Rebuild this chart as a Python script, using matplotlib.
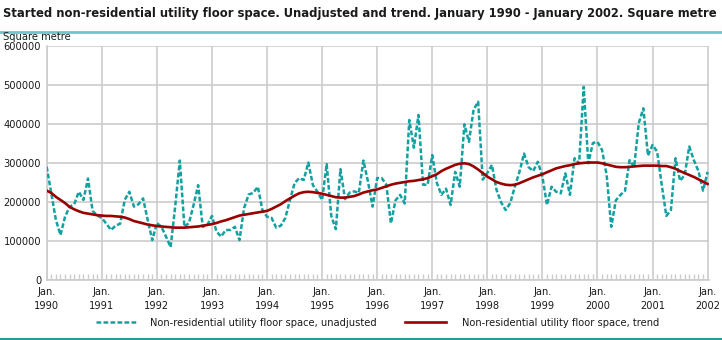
import os
import matplotlib
matplotlib.use("Agg")
import matplotlib.pyplot as plt
import matplotlib.font_manager as fm
from matplotlib.font_manager import FontProperties
from matplotlib.lines import Line2D
import numpy as np

years = [str(y) for y in range(1990, 2003)]
tick_labels = ["Jan.\n" + y for y in years]
y_ticks = [0, 100000, 200000, 300000, 400000, 500000, 600000]

unadjusted_k = [
    291, 223, 155, 116, 163, 189, 195, 227, 206, 261, 178, 166,   # 1990
    160, 145, 129, 140, 145, 206, 227, 189, 195, 210, 155, 103,   # 1991
    147, 137, 112, 85, 190, 307, 137, 147, 193, 244, 137, 142,    # 1992
    165, 125, 112, 129, 129, 137, 103, 185, 220, 224, 240, 180,   # 1993
    163, 160, 135, 140, 160, 206, 249, 262, 257, 302, 244, 227,   # 1994
    206, 298, 165, 131, 285, 208, 225, 228, 224, 307, 253, 189,   # 1995
    262, 262, 245, 146, 205, 219, 197, 411, 340, 424, 245, 245,   # 1996
    321, 250, 219, 235, 193, 278, 240, 400, 355, 437, 458, 258,   # 1997
    275, 296, 232, 200, 180, 198, 240, 278, 325, 290, 280, 304,   # 1998
    266, 193, 240, 227, 223, 274, 219, 313, 300, 496, 300, 352,   # 1999
    355, 334, 270, 137, 205, 219, 229, 308, 291, 403, 441, 320,   # 2000
    347, 330, 245, 165, 180, 313, 255, 270, 343, 308, 280, 230,   # 2001
    278,                                                          # 2002
]

trend_k = [
    230, 224, 214, 206, 198, 188, 182, 177, 173, 171, 169, 167,
    166, 165, 165, 164, 163, 161, 157, 152, 149, 146, 143, 141,
    139, 138, 137, 136, 135, 135, 135, 136, 137, 138, 140, 142,
    144, 147, 151, 154, 158, 162, 166, 168, 170, 172, 174, 176,
    178, 183, 189, 195, 203, 210, 217, 223, 226, 227, 226, 224,
    222, 219, 216, 213, 212, 212, 214, 216, 220, 225, 228, 231,
    233, 237, 241, 245, 248, 250, 252, 254, 255, 257, 259, 262,
    267, 272, 280, 286, 291, 296, 299, 300, 298, 292, 284, 275,
    266, 259, 252, 248, 245, 244, 245, 249, 254, 259, 264, 268,
    272, 277, 282, 287, 290, 293, 295, 298, 300, 301, 302, 302,
    302, 300, 297, 294, 291, 290, 290, 291, 292, 293, 294, 294,
    294, 294, 293, 293, 290, 286, 280, 275, 270, 265, 259, 253,
    247,
]

label_unadj = "Non-residential utility floor space, unadjusted"
label_trend = "Non-residential utility floor space, trend"
title = "Started non-residential utility floor space. Unadjusted and trend. January 1990 - January 2002. Square metre"
y_unit = "Square metre"

unadjusted = np.array(unadjusted_k) * 1000
trend = np.array(trend_k) * 1000
months = np.arange(len(unadjusted))

TEAL = "#13a0a0"
RED = "#990000"
GRID = "#cccccc"
TXT = "#1a1a1a"


# ---- font selection: prefer a narrow sans face ----
def _w(f):
    w = f.weight
    if isinstance(w, (int, float)):
        return int(w)
    return {'normal': 400, 'regular': 400, 'book': 400, 'medium': 500,
            'semibold': 600, 'bold': 700, 'heavy': 800, 'black': 900}.get(str(w).lower(), 400)


def find_font(bold):
    entries = fm.fontManager.ttflist

    def ok(f):
        w = _w(f)
        wt = (w >= 600) if bold else (350 <= w <= 500)
        b = os.path.basename(f.fname)
        return wt and f.style == 'normal' and 'Mono' not in b and 'Oblique' not in b and 'Italic' not in b
    prefs = [
        lambda f: f.name == 'Liberation Sans Narrow',
        lambda f: 'DejaVuSansCondensed' in os.path.basename(f.fname),
        lambda f: ('Condensed' in os.path.basename(f.fname) or 'Narrow' in os.path.basename(f.fname))
        and 'Serif' not in os.path.basename(f.fname) and 'Extra' not in os.path.basename(f.fname),
    ]
    for p in prefs:
        c = [f for f in entries if p(f) and ok(f)]
        if c:
            return c[0].fname
    return None


reg_file = find_font(False)
bold_file = find_font(True)


def fprop(size, bold=False):
    path = bold_file if bold else reg_file
    if path:
        return FontProperties(fname=path, size=size)
    return FontProperties(family='DejaVu Sans', size=size, weight='bold' if bold else 'normal')


fig = plt.figure(figsize=(7.22, 3.40), dpi=100)
renderer = fig.canvas.get_renderer()


def fit_size(text, target_px, bold=False):
    t = fig.text(0, 0, text, fontproperties=fprop(10, bold))
    w = t.get_window_extent(renderer).width
    t.remove()
    return 10 * target_px / w


fs_tick = fit_size("600000", 38)
fs_title = fit_size(title, 711, bold=True)
fs_title = min(fs_title, 11.5)

ax = fig.add_axes([46.7 / 722, 59.7 / 340, (709 - 46.7) / 722, (280.3 - 46.3) / 340])

ax.plot(months, unadjusted, color=TEAL, lw=1.8, linestyle=(0, (1.9, 0.9)), zorder=3)
ax.plot(months, trend, color=RED, lw=1.9, zorder=4)

ax.set_xlim(0, 144.3)
ax.set_ylim(0, 600000)
ax.set_xticks(np.arange(0, 145, 12))
ax.set_xticklabels(tick_labels, linespacing=1.45)
ax.set_xticks(np.arange(0, 145, 1), minor=True)
ax.set_yticks(y_ticks)
ax.set_yticklabels([str(v) for v in y_ticks])
for lab in ax.get_xticklabels() + ax.get_yticklabels():
    lab.set_fontproperties(fprop(fs_tick))
    lab.set_color(TXT)

ax.grid(True, which='major', color=GRID, lw=1.2)
ax.set_axisbelow(True)
for s in ['top', 'right']:
    ax.spines[s].set_visible(False)
for s in ['left', 'bottom']:
    ax.spines[s].set_color(GRID)
    ax.spines[s].set_linewidth(1.2)
ax.tick_params(axis='x', which='major', length=0, pad=5)
ax.tick_params(axis='x', which='minor', length=4, direction='in', color=GRID, width=1)
ax.tick_params(axis='y', which='major', length=0, pad=4)

fig.text(3 / 722, 1 - 14 / 340, title, fontproperties=fprop(fs_title, True), color=TXT,
         va='center', ha='left')
fig.add_artist(Line2D([0, 1], [1 - 32 / 340, 1 - 32 / 340], color="#6cc8c8", lw=2,
                      transform=fig.transFigure))
fig.add_artist(Line2D([0, 1], [1.5 / 340, 1.5 / 340], color="#2a9a9a", lw=1.5,
                      transform=fig.transFigure))
fig.text(3 / 722, 1 - 37 / 340, y_unit, fontproperties=fprop(fs_tick), color=TXT,
         va='center', ha='left')

# legends: two entries placed like the reference
px_per_unit = fs_tick * 100 / 72
h1 = Line2D([], [], color=TEAL, lw=1.8, linestyle=(0, (1.9, 0.9)))
h2 = Line2D([], [], color=RED, lw=1.9)
leg1 = fig.legend([h1], [label_unadj], loc='center left',
                  bbox_to_anchor=(96 / 722, 1 - 323 / 340), frameon=False,
                  prop=fprop(fs_tick), handlelength=42 / px_per_unit,
                  handletextpad=12 / px_per_unit, borderaxespad=0, borderpad=0)
leg2 = fig.legend([h2], [label_trend], loc='center left',
                  bbox_to_anchor=(405 / 722, 1 - 323 / 340), frameon=False,
                  prop=fprop(fs_tick), handlelength=41 / px_per_unit,
                  handletextpad=16 / px_per_unit, borderaxespad=0, borderpad=0)
for lg in (leg1, leg2):
    for t in lg.get_texts():
        t.set_color(TXT)

fig.savefig("out.png", dpi=100)
